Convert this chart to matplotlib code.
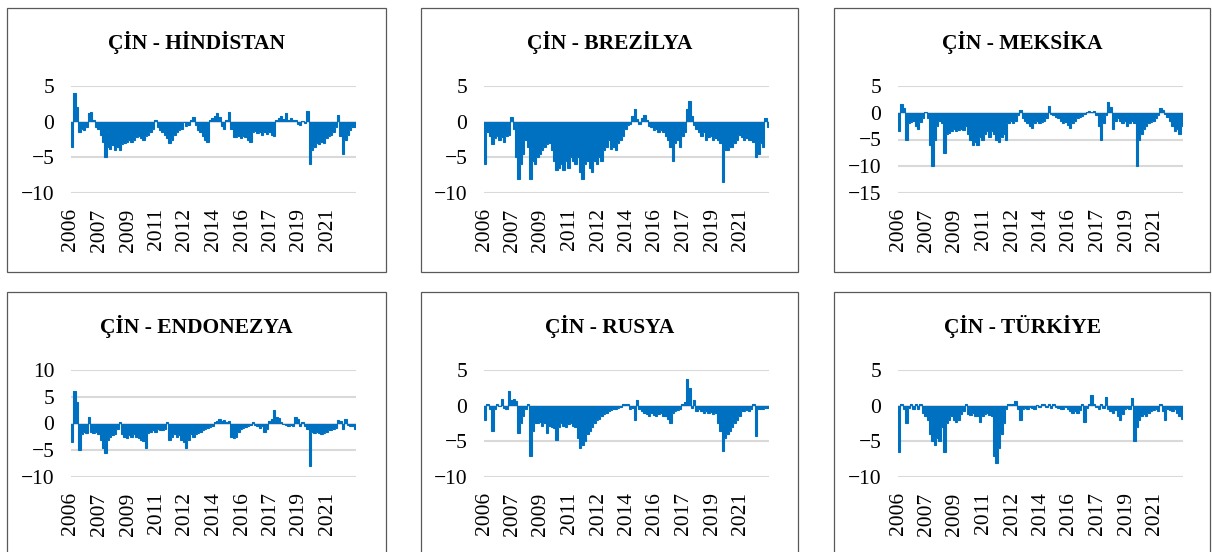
import matplotlib
matplotlib.use("Agg")
import matplotlib.pyplot as plt
from matplotlib.patches import Rectangle
import numpy as np

plt.rcParams['font.family'] = ['Liberation Serif', 'DejaVu Serif']

year_labels = ["2006", "2007", "2009", "2011", "2012", "2014", "2016", "2017", "2019", "2021"]

titles = ["ÇİN - HİNDİSTAN", "ÇİN - BREZİLYA", "ÇİN - MEKSİKA",
          "ÇİN - ENDONEZYA", "ÇİN - RUSYA", "ÇİN - TÜRKİYE"]

hindistan = [-3.5, 4.0, 2.0, -1.5, -1.0, -1.2, -0.8, 1.2, 1.3, 0.3,
             -0.7, -1.0, -1.8, -2.8, -5.0, -3.5, -3.8, -3.3, -4.0, -3.6,
             -4.0, -3.2, -3.0, -2.8, -2.5, -2.8, -2.5, -2.2, -2.0, -2.3,
             -2.5, -2.0, -1.8, -1.5, -1.0, 0.2, -0.8, -1.2, -1.5, -1.8,
             -2.3, -3.0, -2.5, -1.8, -1.5, -1.2, -1.0, 0.0, -0.6, -0.5,
             0.3, 0.6, -0.5, -1.2, -1.5, -2.0, -2.5, -2.9, 0.3, 0.5,
             0.8, 1.2, 0.6, -0.6, -1.0, 0.3, 1.4, -1.0, -2.2, -2.2,
             -2.0, -2.3, -2.0, -2.2, -2.5, -2.8, -1.5, -1.3, -1.6, -1.5,
             -1.8, -1.5, -1.7, -1.5, -1.8, -2.0, 0.3, 0.5, 0.8, 0.4,
             1.2, 0.3, 0.5, 0.2, 0.3, -0.3, -0.5, 0.1, -0.2, 1.5,
             -6.0, -4.0, -3.5, -3.0, -3.2, -2.8, -3.0, -2.3, -2.0, -1.8,
             -1.5, -0.8, 1.0, -2.0, -4.5, -2.5, -1.8, -1.2, -0.8, -0.8]

brezilya = [-6.0, -1.5, -2.0, -3.2, -2.3, -2.0, -2.5, -2.2, -2.8, -2.0,
            -1.8, 0.6, -1.0, -5.0, -8.0, -6.0, -4.5, -2.5, -3.5, -8.0,
            -5.5, -6.0, -5.0, -4.5, -4.0, -3.5, -3.2, -3.0, -4.0, -5.5,
            -6.8, -6.5, -6.0, -6.8, -5.5, -6.5, -5.0, -5.5, -6.0, -5.0,
            -7.0, -8.0, -6.0, -5.5, -6.5, -7.0, -5.5, -6.0, -5.0, -5.5,
            -4.0, -3.5, -2.5, -3.8, -3.5, -4.0, -3.0, -2.5, -2.0, -1.0,
            -0.5, -0.3, 0.8, 1.8, 0.4, -0.3, 0.5, 0.9, 0.2, -0.6,
            -0.8, -1.2, -1.0, -1.5, -1.2, -1.5, -2.0, -2.5, -3.5, -5.5,
            -3.0, -2.5, -3.5, -2.0, -1.5, 1.8, 2.9, 0.8, -0.5, -1.0,
            -1.5, -2.0, -1.5, -2.5, -2.2, -2.0, -2.5, -2.3, -2.5, -3.0,
            -8.5, -4.0, -4.0, -3.5, -3.5, -3.0, -2.5, -1.8, -2.2, -2.5,
            -2.3, -2.5, -2.5, -2.8, -5.0, -4.5, -3.0, -3.5, 0.5, -0.8]

meksika = [-3.5, 1.6, 0.8, -5.0, -2.0, -1.8, -1.5, -2.5, -3.0, -1.8,
           -1.0, 0.1, -1.0, -6.0, -10.0, -5.0, -2.5, -1.5, -2.0, -7.5,
           -4.0, -3.8, -3.5, -3.0, -3.5, -3.2, -3.0, -3.2, -2.5, -4.0,
           -5.0, -6.0, -5.5, -6.0, -4.5, -5.0, -4.0, -3.5, -4.5, -3.5,
           -4.0, -5.0, -5.5, -4.5, -4.0, -5.0, -2.0, -1.5, -2.0, -1.5,
           -0.5, 0.5, -1.0, -1.5, -2.0, -2.5, -2.8, -2.0, -1.5, -2.0,
           -1.8, -1.5, -1.0, 1.3, -0.3, -0.5, -0.8, -1.0, -1.5, -2.0,
           -1.8, -2.2, -2.8, -2.0, -1.5, -1.0, -0.8, -0.6, -0.3, 0.2,
           0.3, 0.1, 0.3, -0.5, -2.5, -5.0, -2.0, -0.5, 2.0, 1.0,
           -3.0, -1.5, -1.0, -1.5, -2.0, -1.5, -2.5, -2.0, -1.5, -2.0,
           -10.0, -5.0, -4.0, -3.0, -2.5, -2.0, -1.8, -1.5, -1.0, -0.5,
           0.8, 0.5, -0.3, -0.8, -1.5, -2.5, -3.5, -3.0, -4.0, -2.5]

endonezya = [-3.5, 6.0, 4.0, -5.0, -2.0, -1.5, -1.8, 1.3, -1.5, -1.8,
             -1.5, -2.0, -3.0, -4.5, -5.5, -3.0, -2.5, -2.2, -2.0, -1.0,
             0.2, -2.0, -2.5, -2.8, -2.2, -2.5, -2.0, -2.5, -2.8, -3.0,
             -3.2, -4.5, -1.8, -1.5, -1.2, -1.5, -1.0, -1.2, -1.3, -1.0,
             0.3, -3.0, -2.5, -2.0, -2.5, -2.2, -3.0, -3.5, -4.5, -3.0,
             -2.0, -2.5, -2.0, -1.8, -1.5, -1.2, -1.0, -0.8, -0.6, -0.5,
             0.3, 0.5, 0.8, 0.4, 0.6, 0.3, 0.5, -2.5, -2.8, -2.5,
             -1.5, -1.0, -0.8, -0.6, -0.5, -0.3, 0.3, -0.2, -0.5, -0.8,
             -0.5, -1.5, -1.0, 0.5, 0.8, 2.5, 1.2, 1.0, 0.3, 0.0,
             -0.3, -0.5, -0.2, -0.4, 1.3, 0.8, -0.5, 0.3, -0.5, -1.0,
             -8.0, -1.5, -1.8, -1.5, -1.8, -2.0, -1.8, -1.5, -1.3, -1.2,
             -1.0, -0.8, 0.7, 0.5, -1.0, 0.8, -0.3, -0.5, -0.4, -1.0]

rusya = [-2.0, 0.3, -0.5, -3.5, -0.5, 0.2, 0.0, 1.0, -0.3, -0.5,
         2.0, 0.8, 0.9, 0.6, -3.8, -2.5, -1.5, -0.5, 0.3, -7.0,
         -3.5, -2.5, -2.5, -2.3, -2.8, -2.5, -3.8, -2.8, -3.0, -3.2,
         -4.8, -3.0, -2.5, -2.8, -3.0, -2.6, -2.5, -2.8, -3.0, -4.5,
         -6.0, -5.5, -5.0, -4.0, -3.5, -3.0, -2.5, -2.0, -1.8, -1.5,
         -1.2, -1.0, -0.8, -0.6, -0.5, -0.5, -0.3, -0.2, 0.3, 0.2,
         0.3, -0.5, -0.3, -2.0, 0.8, -0.5, -0.8, -1.0, -1.2, -1.4,
         -1.0, -1.3, -1.5, -1.2, -1.0, -1.4, -1.5, -1.8, -2.5, -1.0,
         -0.8, -0.6, -0.5, 0.3, 0.5, 3.8, 2.5, -0.3, 0.8, -0.8,
         -0.5, -0.8, -1.0, -0.8, -1.0, -0.9, -1.2, -1.0, -2.5, -3.5,
         -6.3, -4.5, -4.0, -3.5, -3.0, -2.5, -2.0, -1.5, -0.8, -0.8,
         -0.6, -0.7, -0.5, 0.3, -4.2, -0.5, -0.4, -0.5, -0.3, -0.3]

turkiye = [-6.5, 0.2, -0.5, -2.5, -0.3, 0.2, -0.4, 0.3, -0.5, 0.2,
           -1.0, -1.5, -2.0, -4.0, -5.0, -5.5, -4.5, -5.0, -3.0, -6.5,
           -2.5, -2.0, -1.5, -2.0, -2.3, -2.0, -1.2, -0.8, 0.2, -1.2,
           -1.3, -1.0, -1.5, -1.5, -2.3, -1.5, -1.2, -1.0, -1.3, -1.5,
           -7.0, -8.0, -6.0, -4.0, -2.5, -0.5, 0.2, 0.3, 0.2, 0.7,
           -0.5, -2.0, -0.4, -0.3, -0.5, -0.2, -0.3, -0.4, 0.1, -0.2,
           0.2, 0.3, -0.2, 0.2, -0.3, 0.2, -0.2, -0.3, -0.5, -0.4,
           -0.2, -0.5, -0.8, -1.0, -0.8, -1.0, -0.6, 0.3, -2.3, -0.3,
           0.2, 1.5, 0.3, -0.2, -0.4, 0.2, -0.3, 1.2, -0.5, -0.8,
           -1.0, -0.6, -1.5, -2.0, -1.2, -0.5, -0.3, -0.5, 1.1, -5.0,
           -3.0, -2.0, -1.5, -1.2, -1.5, -1.0, -0.8, -0.6, -0.5, -0.7,
           0.3, -0.8, -2.0, -0.5, -0.6, -0.8, -0.5, -1.0, -1.5, -1.8]

series = [hindistan, brezilya, meksika, endonezya, rusya, turkiye]
ylims = [(-10, 5), (-10, 5), (-15, 5), (-10, 10), (-10, 5), (-10, 5)]

W, H = 1212, 552
fig = plt.figure(figsize=(W / 100, H / 100), dpi=100)

# panel geometry in pixels
plot_lefts = [71, 484, 898]
plot_w = 285
row_tops = [86, 370]
plot_h = 107
box_lefts = [7, 421, 834]
box_rights = [386, 798, 1210]
box_tops = [8, 292]
box_bottoms = [272, 600]
title_y = [42, 327]

blue = '#0070C0'
step = 12

for k in range(6):
    r, c = divmod(k, 3)
    bx0, bx1 = box_lefts[c], box_rights[c]
    by0, by1 = box_tops[r], box_bottoms[r]
    rect = Rectangle((bx0 / W, 1 - by1 / H), (bx1 - bx0) / W, (by1 - by0) / H,
                     transform=fig.transFigure, fill=False, edgecolor='#595959',
                     linewidth=0.9, zorder=0)
    fig.patches.append(rect)

    ax = fig.add_axes([plot_lefts[c] / W, 1 - (row_tops[r] + plot_h) / H,
                       plot_w / W, plot_h / H])
    vals = np.asarray(series[k])
    edges = np.arange(len(vals) + 1)
    ax.stairs(vals, edges, baseline=0, fill=True, color=blue,
              linewidth=0, zorder=3)
    ax.stairs(vals, edges, baseline=0, fill=False, color=blue,
              linewidth=0.8, zorder=3)
    lo, hi = ylims[k]
    ax.set_ylim(lo, hi)
    ax.set_yticks(np.arange(lo, hi + 1, 5))
    ax.set_xlim(0, len(vals))
    ax.set_xticks(np.arange(0, len(vals), step)[:len(year_labels)])
    ax.set_xticklabels(year_labels, rotation=90, fontsize=15.5)
    ax.tick_params(axis='y', labelsize=15.5, length=0, pad=12)
    ax.tick_params(axis='x', length=0, pad=11)
    ax.grid(axis='y', color='#d9d9d9', linewidth=1.5, zorder=0)
    ax.set_axisbelow(True)
    for s in ax.spines.values():
        s.set_visible(False)
    ax.patch.set_alpha(0)

    fig.text((bx0 + bx1) / 2 / W, 1 - title_y[r] / H, titles[k],
             ha='center', va='center', fontsize=15.5, fontweight='bold')

fig.savefig('out.png', dpi=100)
